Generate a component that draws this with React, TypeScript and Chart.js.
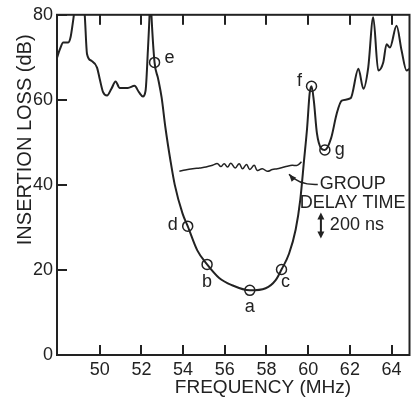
import React, { useEffect, useRef } from "react";
import { Chart, registerables } from "chart.js";

Chart.register(...registerables);

// Insertion loss curve (MHz, dB)
const freq = [
  47.93, 48.09, 48.25, 48.49, 48.6, 48.7, 48.76, 49.02, 49.28, 49.39, 49.6, 49.87, 50.0, 50.16,
  50.35, 50.56, 50.76, 50.96, 51.35, 51.67, 51.88, 52.07, 52.2, 52.31, 52.39, 52.43, 52.48,
  52.63, 52.8, 52.97, 53.15, 53.4, 53.6, 53.97, 54.22, 54.68, 55.15, 55.73, 56.35, 57.2, 57.96,
  58.44, 58.72, 59.08, 59.4, 59.62, 59.8, 59.95, 60.07, 60.16, 60.27, 60.42, 60.62, 60.8, 61.1,
  61.37, 61.61, 62.04, 62.41, 62.65, 62.88, 63.12, 63.36, 63.6, 63.76, 63.92, 64.24, 64.48,
  64.72, 64.86,
];
const loss = [
  69.6, 71.9, 73.5, 73.5, 74.7, 77.8, 80, 92, 80, 70.8, 69.2, 67.6, 64.9, 61.8,
  61.0, 62.6, 64.3, 62.8, 62.8, 63.3, 61.8, 60.8, 62.2, 71.6, 80, 86, 80,
  68.8, 65.0, 60.5, 53.5, 45.5, 40.0, 33.3, 30.3, 24.6, 21.3, 18.1, 16.4, 15.2, 15.7,
  17.6, 20.1, 23.8, 29.5, 36.5, 45.7, 53.5, 61.5, 63.2, 59.8, 52.1, 48.6, 48.2, 51.0,
  56.8, 59.8, 60.4, 67.3, 62.6, 67.6, 79.4, 66.9, 68.8, 73.1, 72.3, 77.4, 71.6,
  66.9, 67.3,
];

// Group delay trace (drawn on the dB scale, arbitrary offset)
const delayFreq = [
  53.82, 54.1, 54.46, 54.8, 55.1, 55.41, 55.65, 55.81, 55.97, 56.13, 56.29, 56.5, 56.69, 56.85,
  57.04, 57.2, 57.41, 57.56, 57.8, 58.04, 58.28, 58.52, 58.76, 59.0, 59.23, 59.47, 59.68,
];
const delay = [
  43.2, 43.5, 43.8, 44.0, 44.2, 44.6, 45.0, 44.3, 45.0, 44.2, 45.1, 44.0, 45.0, 43.8,
  44.8, 43.6, 44.6, 43.4, 43.8, 43.2, 43.6, 43.8, 44.1, 44.4, 44.6, 44.6, 45.4,
];

// Labelled points
const markerNames = ["a", "b", "c", "d", "e", "f", "g"];
const markerFreq = [57.2, 55.15, 58.72, 54.22, 52.63, 60.16, 60.8];
const markerLoss = [15.2, 21.3, 20.1, 30.3, 68.8, 63.2, 48.2];
// label offsets in px (style)
const markerDx = [0, 0, 4, -15, 15, -12, 15];
const markerDy = [17, 18, 13, -1, -4, -5, 0];

const xTicks = [50, 52, 54, 56, 58, 60, 62, 64];
const yTicks = [0, 20, 40, 60, 80];
const X_MIN = 47.95;
const X_MAX = 64.86;

const xTitle = "FREQUENCY (MHz)";
const yTitle = "INSERTION LOSS (dB)";
const noteGroup = "GROUP";
const noteDelay = "DELAY TIME";
const noteScale = "200 ns";

const INK = "#222";
const FONT = "'Liberation Sans', Arial, sans-serif";

const overlay = {
  id: "overlay",
  afterDraw(chart: any) {
    const ctx = chart.ctx;
    const ca = chart.chartArea;
    const xs = chart.scales.x;
    const ys = chart.scales.y;
    const X = (v: number) => xs.getPixelForValue(v);
    const Y = (v: number) => ys.getPixelForValue(v);
    ctx.save();
    ctx.strokeStyle = INK;
    ctx.fillStyle = INK;
    ctx.lineWidth = 2;
    ctx.strokeRect(ca.left, ca.top, ca.right - ca.left, ca.bottom - ca.top);
    for (let i = 0; i < xTicks.length; i++) {
      const px = Math.round(X(xTicks[i]));
      ctx.fillRect(px - 1, ca.bottom - 10, 2, 10);
      ctx.fillRect(px - 1, ca.top, 2, 10);
    }
    for (let i = 0; i < yTicks.length; i++) {
      const py = Math.round(Y(yTicks[i]));
      ctx.fillRect(ca.left, py - 1, 10, 2);
    }

    // marker labels
    ctx.font = `18px ${FONT}`;
    ctx.textAlign = "center";
    ctx.textBaseline = "middle";
    markerNames.forEach((n, i) => {
      ctx.fillText(n, X(markerFreq[i]) + markerDx[i], Y(markerLoss[i]) + markerDy[i]);
    });

    // annotation texts
    ctx.textAlign = "left";
    ctx.fillText(noteGroup, X(60.56), Y(40.1));
    ctx.fillText(noteDelay, X(59.6), Y(35.7));
    ctx.fillText(noteScale, X(61.04), Y(30.5));

    // arrow to group delay curve
    ctx.lineWidth = 1.6;
    const tx = X(60.46), ty = Y(40.1);
    const cx = X(59.56), cy = Y(39.9);
    const hx = X(59.08), hy = Y(42.5);
    ctx.beginPath();
    ctx.moveTo(tx, ty);
    ctx.quadraticCurveTo(cx, cy, hx, hy);
    ctx.stroke();
    const ang = Math.atan2(hy - cy, hx - cx);
    ctx.beginPath();
    ctx.moveTo(hx, hy);
    ctx.lineTo(hx - 8 * Math.cos(ang - 0.4), hy - 8 * Math.sin(ang - 0.4));
    ctx.lineTo(hx - 8 * Math.cos(ang + 0.4), hy - 8 * Math.sin(ang + 0.4));
    ctx.closePath();
    ctx.fill();

    // 200 ns scale bar
    const bx = X(60.61), b1 = Y(33.5), b2 = Y(27.4);
    ctx.fillRect(bx - 1, b1 + 4, 2, b2 - b1 - 8);
    ctx.beginPath();
    ctx.moveTo(bx, b1); ctx.lineTo(bx - 3.5, b1 + 7); ctx.lineTo(bx + 3.5, b1 + 7); ctx.closePath(); ctx.fill();
    ctx.beginPath();
    ctx.moveTo(bx, b2); ctx.lineTo(bx - 3.5, b2 - 7); ctx.lineTo(bx + 3.5, b2 - 7); ctx.closePath(); ctx.fill();

    // axis titles
    ctx.textAlign = "center";
    ctx.font = `19px ${FONT}`;
    ctx.fillText(xTitle, ca.left + 206, ca.bottom + 33);
    ctx.save();
    ctx.translate(ca.left - 32, ca.top + 125);
    ctx.rotate(-Math.PI / 2);
    ctx.font = `20px ${FONT}`;
    ctx.fillText(yTitle, 0, 0);
    ctx.restore();
    ctx.restore();
  },
};

export default function App() {
  const ref = useRef<HTMLCanvasElement | null>(null);
  useEffect(() => {
    if (!ref.current) return;
    const chart = new Chart(ref.current, {
      type: "line",
      data: {
        datasets: [
          {
            data: freq.map((f, i) => ({ x: f, y: loss[i] })),
            borderColor: INK,
            borderWidth: 2,
            pointRadius: 0,
            cubicInterpolationMode: "monotone",
            fill: false,
          },
          {
            data: delayFreq.map((f, i) => ({ x: f, y: delay[i] })),
            borderColor: INK,
            borderWidth: 1.5,
            pointRadius: 0,
            tension: 0.4,
            fill: false,
          },
          {
            data: markerFreq.map((f, i) => ({ x: f, y: markerLoss[i] })),
            showLine: false,
            pointRadius: 5,
            pointBorderWidth: 1.5,
            pointBorderColor: INK,
            pointBackgroundColor: "rgba(0,0,0,0)",
          },
        ],
      },
      options: {
        animation: false,
        responsive: false,
        devicePixelRatio: 1,
        layout: { padding: { top: 14, right: 5, left: 0, bottom: 0 } },
        plugins: { legend: { display: false }, tooltip: { enabled: false } },
        scales: {
          x: {
            type: "linear",
            min: X_MIN,
            max: X_MAX,
            afterBuildTicks: (s: any) => {
              s.ticks = xTicks.map((v) => ({ value: v }));
            },
            afterFit: (s: any) => {
              s.height = 43;
            },
            grid: { display: false, drawTicks: false },
            border: { display: false },
            ticks: { padding: 4, color: INK, font: { family: FONT, size: 18 }, maxRotation: 0, autoSkip: false },
          },
          y: {
            min: 0,
            max: 80,
            afterBuildTicks: (s: any) => {
              s.ticks = yTicks.map((v) => ({ value: v }));
            },
            afterFit: (s: any) => {
              s.width = 57;
            },
            grid: { display: false, drawTicks: false },
            border: { display: false },
            ticks: { padding: 4, color: INK, font: { family: FONT, size: 18 } },
          },
        },
      },
      plugins: [overlay],
    } as any);
    return () => chart.destroy();
  }, []);
  return (
    <div style={{ position: "fixed", left: 0, top: 0, width: 416, height: 398, background: "#fff" }}>
      <canvas ref={ref} width={416} height={398} />
    </div>
  );
}
